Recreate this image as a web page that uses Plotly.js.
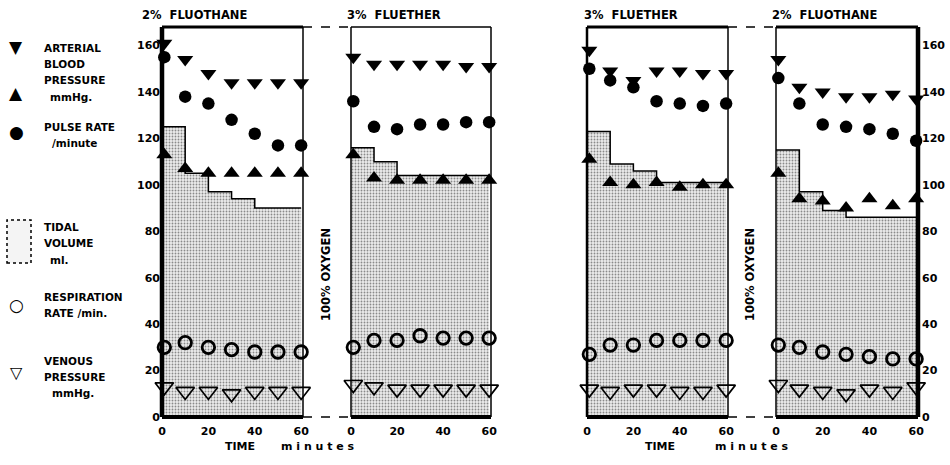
<!DOCTYPE html>
<html><head><meta charset="utf-8">
<script src="https://cdn.plot.ly/plotly-3.0.1.min.js"></script>
<style>body{margin:0;background:#fff}#chart{width:950px;height:465px}</style>
</head><body><div id="chart"></div>
<script>
// ---- data ----
const times = [1, 10, 20, 30, 40, 50, 60];
const tidalTimes = [0, 10, 20, 30, 40, 50, 60];
const panelTitles = ["2%  FLUOTHANE", "3%  FLUETHER", "3%  FLUETHER", "2%  FLUOTHANE"];
const arterialSystolic = [
  [161, 154, 148, 144, 144, 144, 144],
  [155, 152, 152, 152, 152, 151, 151],
  [158, 149, 145, 149, 149, 148, 148],
  [154, 142, 140, 138, 138, 139, 137]
];
const arterialDiastolic = [
  [113, 107, 105, 105, 105, 105, 105],
  [113, 103, 102, 102, 102, 102, 102],
  [111, 101, 100, 101, 99, 100, 100],
  [105, 94, 93, 90, 94, 91, 94]
];
const pulseRate = [
  [155, 138, 135, 128, 122, 117, 117],
  [136, 125, 124, 126, 126, 127, 127],
  [150, 145, 142, 136, 135, 134, 135],
  [146, 135, 126, 125, 124, 122, 119]
];
const tidalVolume = [
  [125, 105, 97, 94, 90, 90, 90],
  [116, 110, 104, 104, 104, 104, 104],
  [123, 109, 106, 101, 101, 101, 101],
  [115, 97, 89, 86, 86, 86, 86]
];
const respirationRate = [
  [30, 32, 30, 29, 28, 28, 28],
  [30, 33, 33, 35, 34, 34, 34],
  [27, 31, 31, 33, 33, 33, 33],
  [31, 30, 28, 27, 26, 25, 25]
];
const venousPressure = [
  [13, 11, 11, 10, 11, 11, 11],
  [14, 13, 12, 12, 12, 12, 12],
  [12, 11, 12, 12, 11, 11, 12],
  [14, 12, 11, 10, 12, 11, 13]
];
const yTicks = [0, 20, 40, 60, 80, 100, 120, 140, 160];
const xTicks = [0, 20, 40, 60];

// ---- layout helpers ----
const W = 950, H = 465;
const FONT = "DejaVu Sans";
const px = v => v / W, py = v => 1 - v / H;
const panelX = [[162, 303], [351, 491], [587, 728], [776, 918]];
const titleOffset = [-0.156, -0.043, -0.035, -0.04];
const yDom = [py(417), py(27)];
const traces = [], layout = {
  width: W, height: H, margin: {l: 0, r: 0, t: 0, b: 0},
  paper_bgcolor: "#fff", plot_bgcolor: "rgba(0,0,0,0)", showlegend: false,
  font: {family: FONT, color: "#000", size: 11},
  shapes: [], annotations: []
};

for (let p = 0; p < 4; p++) {
  const s = p === 0 ? "" : String(p + 1);
  const xa = "x" + s, ya = "y" + s;
  layout["xaxis" + s] = {
    domain: [px(panelX[p][0]), px(panelX[p][1])], range: [0, 60.8], anchor: ya,
    tickvals: xTicks, showgrid: false, zeroline: false, showline: false, ticks: "",
    ticklabelstandoff: 6,
    tickfont: {family: FONT, size: 11, weight: "bold"}, fixedrange: true
  };
  layout["yaxis" + s] = {
    domain: yDom, range: [0, 168], anchor: xa, showgrid: false, zeroline: false,
    showline: false, ticks: "", tickvals: yTicks,
    showticklabels: p === 0 || p === 3, side: p === 3 ? "right" : "left",
    ticklabelstandoff: p === 3 ? 3 : 1,
    tickfont: {family: FONT, size: 11, weight: "bold"}, fixedrange: true
  };
  traces.push({
    x: tidalTimes, y: tidalVolume[p], xaxis: xa, yaxis: ya, type: "scatter", mode: "lines",
    line: {shape: "hv", color: "#000", width: 1.5}, fill: "tozeroy",
    fillcolor: "#e4e4e4",
    fillpattern: {shape: ".", fgcolor: "#8a8a8a", bgcolor: "#ececec", size: 3, solidity: 0.3},
    hoverinfo: "skip"
  });
  const mk = (y, sym, size, extra) => Object.assign({
    x: times, y: y, xaxis: xa, yaxis: ya, type: "scatter", mode: "markers", cliponaxis: false,
    marker: {symbol: sym, size: size, color: "#000", line: {color: "#000", width: 0}}
  }, extra || {});
  traces.push(mk(arterialSystolic[p], "triangle-down", 14));
  traces.push(mk(arterialDiastolic[p], "triangle-up", 14));
  traces.push(mk(pulseRate[p], "circle", 12.5));
  traces.push(mk(respirationRate[p], "circle-open", 12, {marker: {symbol: "circle-open", size: 12.5, color: "#000", line: {color: "#000", width: 2.8}}}));
  traces.push(mk(venousPressure[p], "triangle-down-open", 16, {marker: {symbol: "triangle-down-open", size: 16, color: "#000", line: {color: "#000", width: 1.7}}}));

  const xr = xa + " domain", yr = ya + " domain";
  const line = (x0, y0, x1, y1, w) => layout.shapes.push({type: "line", xref: xr, yref: yr, x0, y0, x1, y1, line: {color: "#000", width: w}});
  const thickLeft = p === 0 ? 4.5 : (p === 2 ? 2.5 : 1.5);
  const thickRight = p === 3 ? 4.5 : 1.5;
  const thickTop = p === 1 ? 1.5 : 3;
  line(0, 0, 0, 1, thickLeft);
  line(1, 0, 1, 1, thickRight);
  line(0, 1, 1, 1, thickTop);
  line(0, 0, 1, 0, 4);

  layout.annotations.push({
    text: panelTitles[p], xref: xr, yref: "paper", x: titleOffset[p], y: py(15),
    xanchor: "left", yanchor: "middle", showarrow: false,
    font: {family: FONT, size: 11.5, weight: "bold"}
  });
}

// dashed connectors between paired panels
[[303, 351], [728, 776]].forEach(([a, b]) => {
  [27, 417].forEach(yv => layout.shapes.push({
    type: "line", xref: "paper", yref: "paper", x0: px(a), x1: px(b), y0: py(yv), y1: py(yv),
    line: {color: "#000", width: 1.3, dash: "dash"}
  }));
});

const ann = (text, x, y, opts) => layout.annotations.push(Object.assign({
  text, xref: "paper", yref: "paper", x: px(x), y: py(y), xanchor: "center", yanchor: "middle",
  showarrow: false, font: {family: FONT, size: 11, weight: "bold"}
}, opts || {}));

// 100% OXYGEN
[326, 750].forEach(xv => ann("100% OXYGEN", xv, 275, {textangle: -90, font: {family: FONT, size: 11.5, weight: "bold"}}));

// TIME minutes
[[240, 318], [660, 752]].forEach(([a, b]) => {
  ann("TIME", a, 446);
  ann("m i n u t e s", b, 446);
});

// legend
[["▼", 16, 47, 17], ["▲", 16, 93, 17], ["●", 16, 132, 17], ["○", 16, 305, 17], ["▽", 16, 372, 16]]
  .forEach(([t, x, y, s]) => ann(t, x, y, {font: {family: FONT, size: s}}));
[
  ["ARTERIAL", 42, 48], ["BLOOD", 42, 64], ["PRESSURE", 42, 80], ["mmHg.", 48, 97],
  ["PULSE RATE", 42, 127], ["/minute", 50, 143],
  ["TIDAL", 42, 227], ["VOLUME", 42, 243], ["ml.", 48, 260],
  ["RESPIRATION", 42, 297], ["RATE /min.", 42, 313],
  ["VENOUS", 42, 361], ["PRESSURE", 42, 377], ["mmHg.", 50, 393]
].forEach(([t, x, y]) => ann(t, x, y, {xanchor: "left", font: {family: FONT, size: 10.5, weight: "bold"}}));
layout.shapes.push({type: "rect", xref: "paper", yref: "paper", x0: px(7), x1: px(31), y0: py(263), y1: py(220), fillcolor: "#f4f4f4", line: {color: "#000", width: 1.5, dash: "dot"}});

Plotly.newPlot("chart", traces, layout, {staticPlot: true});
</script></body></html>
